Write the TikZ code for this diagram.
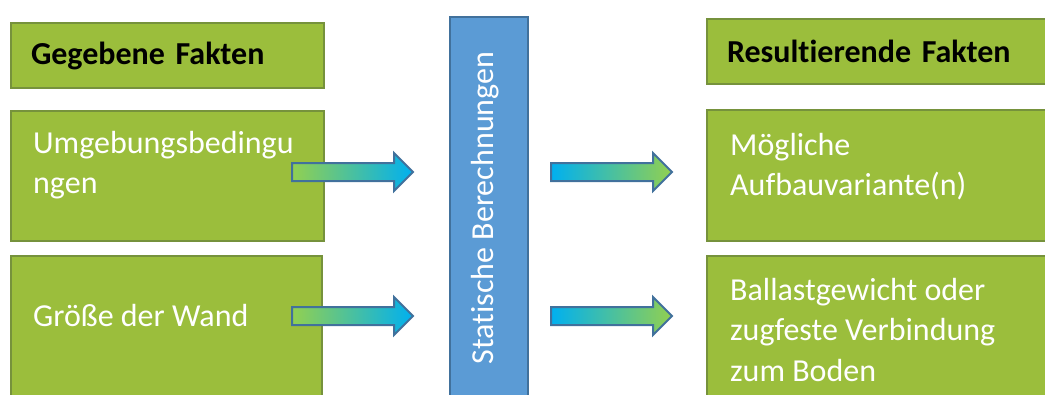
\documentclass[tikz,border=0pt]{standalone}
\usepackage{fontspec}
\setmainfont{Carlito}[Ligatures=NoCommon]
\usepackage{tikz}
\usetikzlibrary{shapes,arrows,positioning,calc}
\definecolor{faktgreen}{RGB}{155,190,60}
\definecolor{faktrand}{RGB}{118,146,60}
\definecolor{calcblue}{RGB}{91,155,213}
\definecolor{calcrand}{RGB}{65,113,156}
\definecolor{pfeilgreen}{RGB}{146,208,80}
\definecolor{pfeilblue}{RGB}{0,176,240}

\begin{document}
\begin{tikzpicture}[
    x=1pt, y=1pt,
    fakt/.style={rectangle, draw=faktrand, line width=2pt, fill=faktgreen, anchor=north west, outer sep=0pt},
    kopf/.style={fakt, minimum height=65pt, text width=273pt, inner xsep=20pt, align=left, font=\bfseries\fontsize{32}{38}\selectfont},
    feld/.style={fakt, minimum height=170pt},
    txt/.style={text=white, align=left, inner sep=0pt, font=\fontsize{32}{40.5}\selectfont},
    pfeil/.style={single arrow, draw=calcrand, line width=2pt, minimum height=121pt, inner sep=0pt, outer sep=0pt, text height=16pt, text depth=0pt, single arrow head extend=10pt}
]
\useasboundingbox (0,0) rectangle (1045,-394);
\clip (0,0) rectangle (1045,-394);

% Gegebene Fakten
\node[kopf] (gk) at (11,-23) {Gegebene Fakten};
\node[feld, minimum width=313pt, minimum height=130pt] (g1) at (11,-111) {};
\node[feld, minimum width=311pt] (g2) at (11,-256) {};
\node[txt, below right=20pt and 22pt of g1.north west] (g1t) {Umgebungsbedingu\\ngen};
\node[txt, below right=48pt and 22pt of g2.north west] (g2t) {Größe der Wand};

% Statische Berechnungen
\node[rectangle, draw=calcrand, line width=2pt, fill=calcblue, anchor=north west, minimum width=78pt, minimum height=400pt] (calc) at (449,-16) {};
\node[text=white, rotate=90, inner sep=0pt, font=\fontsize{32}{38}\selectfont] (calct) at (485,-208) {Statische Berechnungen};

% Resultierende Fakten
\node[kopf, text width=320pt] (rk) at (707,-19) {Resultierende Fakten};
\node[feld, minimum width=360pt, minimum height=131pt] (r1) at (707,-110) {};
\node[feld, minimum width=360pt] (r2) at (707,-256) {};
\node[txt, below right=23pt and 23pt of r1.north west] (r1t) {Mögliche\\Aufbauvariante(n)};
\node[txt, below right=22pt and 23pt of r2.north west] (r2t) {Ballastgewicht oder\\zugfeste Verbindung\\zum Boden};

% Pfeile
\node[pfeil, anchor=tail, left color=pfeilgreen, right color=pfeilblue] (p1) at (292,-172) {};
\node[pfeil, anchor=tail, left color=pfeilgreen, right color=pfeilblue] (p2) at (292,-316) {};
\node[pfeil, anchor=tail, left color=pfeilblue, right color=pfeilgreen] (p3) at (551,-172) {};
\node[pfeil, anchor=tail, left color=pfeilblue, right color=pfeilgreen] (p4) at (551,-316) {};

\end{tikzpicture}
\end{document}
